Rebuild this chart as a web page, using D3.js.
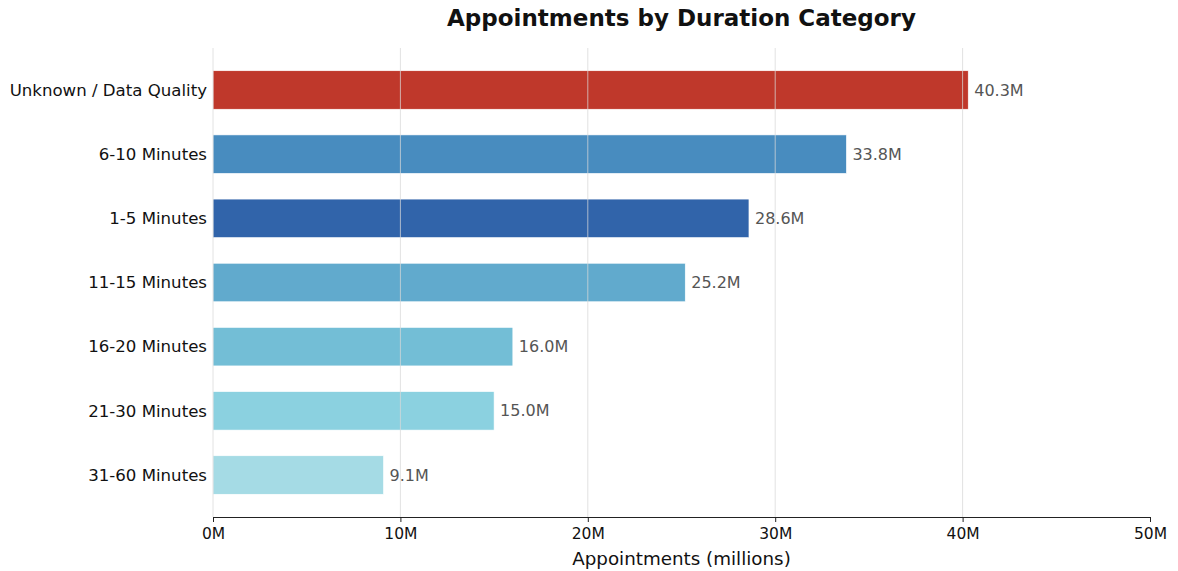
<!DOCTYPE html>
<html>
<head>
<meta charset="utf-8">
<script src="https://cdn.jsdelivr.net/npm/d3@7"></script>
<style>
  html, body { margin: 0; padding: 0; background: #fff; }
  svg { display: block; font-family: "DejaVu Sans", sans-serif; }
</style>
</head>
<body>
<svg id="chart" width="1178" height="571"></svg>
<script>
// Duration categories, top to bottom
const categories = [
  "Unknown / Data Quality",
  "6-10 Minutes",
  "1-5 Minutes",
  "11-15 Minutes",
  "16-20 Minutes",
  "21-30 Minutes",
  "31-60 Minutes"
];
// Appointments in millions
const values = [40.3, 33.8, 28.6, 25.2, 16.0, 15.0, 9.1];
const barColors = ["#bf382b", "#488cbf", "#3164aa", "#61aacd", "#73bed6", "#8bd1e0", "#a5dbe5"];
const tickValues = [0, 10, 20, 30, 40, 50];

const svg = d3.select("#chart");
const plot = { left: 213, right: 1150, top: 48, bottom: 517 };

const x = d3.scaleLinear().domain([0, 50]).range([plot.left, plot.right]);
const y = d3.scaleBand().domain(categories).range([57.9, 507.1])
  .paddingInner(0.4).paddingOuter(0.2);

// Bars
svg.append("g").selectAll("rect").data(categories).join("rect")
  .attr("x", x(0))
  .attr("y", d => y(d))
  .attr("width", (d, i) => x(values[i]) - x(0))
  .attr("height", y.bandwidth())
  .attr("fill", (d, i) => barColors[i])
  .attr("stroke", "#fff")
  .attr("stroke-width", 0.6);

// Vertical grid drawn over the bars
svg.append("g").selectAll("line").data(tickValues.slice(0, -1)).join("line")
  .attr("x1", d => x(d)).attr("x2", d => x(d))
  .attr("y1", plot.top).attr("y2", plot.bottom)
  .attr("stroke", "#d8d8d8")
  .attr("stroke-opacity", 0.75)
  .attr("stroke-width", 1);

// Value labels
svg.append("g").selectAll("text").data(categories).join("text")
  .attr("x", (d, i) => x(values[i]) + 6)
  .attr("y", d => y(d) + y.bandwidth() / 2)
  .attr("dy", "0.35em")
  .attr("font-size", 16)
  .attr("fill", "#555")
  .text((d, i) => values[i].toFixed(1) + "M");

// Category labels
svg.append("g").selectAll("text").data(categories).join("text")
  .attr("x", plot.left - 6)
  .attr("y", d => y(d) + y.bandwidth() / 2)
  .attr("dy", "0.35em")
  .attr("text-anchor", "end")
  .attr("font-size", 16.6)
  .attr("fill", "#111")
  .text(d => d);

// X axis
const xAxis = d3.axisBottom(x).tickValues(tickValues).tickFormat(d => d + "M")
  .tickSize(5).tickSizeOuter(0).tickPadding(6);
const gx = svg.append("g").attr("transform", `translate(0,${plot.bottom})`).call(xAxis);
gx.select(".domain").attr("stroke", "#222").attr("stroke-width", 1.2);
gx.selectAll(".tick line").attr("stroke", "#222");
gx.selectAll(".tick text").attr("font-size", 15.5).attr("fill", "#111")
  .attr("font-family", "DejaVu Sans, sans-serif");

// Axis title
svg.append("text")
  .attr("x", (plot.left + plot.right) / 2).attr("y", 565)
  .attr("text-anchor", "middle")
  .attr("font-size", 18.3).attr("fill", "#111")
  .text("Appointments (millions)");

// Chart title
svg.append("text")
  .attr("x", (plot.left + plot.right) / 2).attr("y", 26)
  .attr("text-anchor", "middle")
  .attr("font-size", 23).attr("font-weight", "bold").attr("fill", "#111")
  .text("Appointments by Duration Category");
</script>
</body>
</html>
